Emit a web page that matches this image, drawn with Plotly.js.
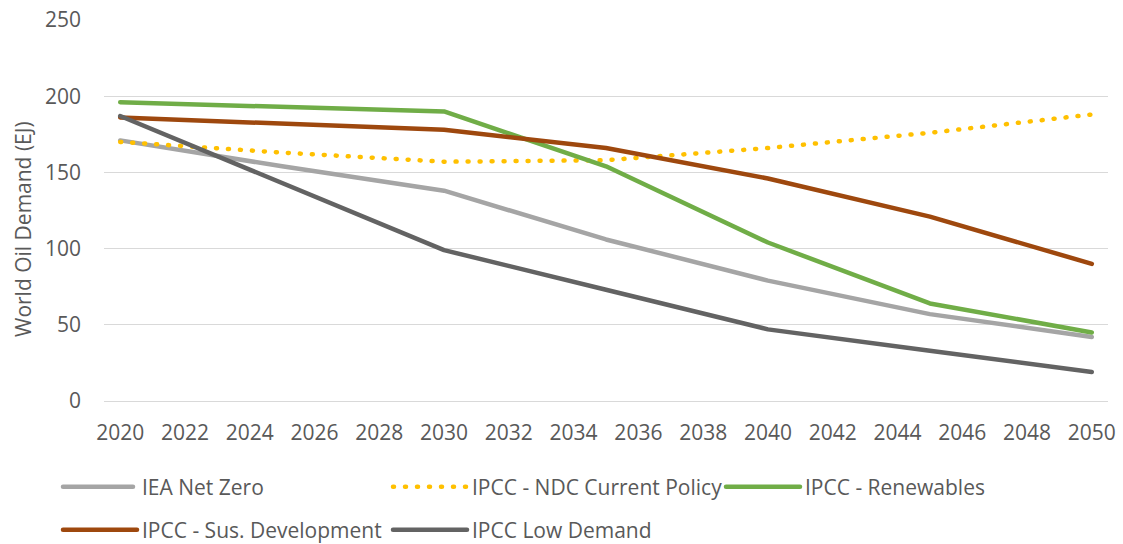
<!DOCTYPE html>
<html>
<head>
<meta charset="utf-8">
<script src="https://cdn.plot.ly/plotly-3.0.1.min.js"></script>
<style>
  html, body { margin: 0; padding: 0; background: #fff; }
  #chart { width: 1123px; height: 544px; }
  .scatterlayer .js-line, .legend .js-line, path.js-line { stroke-linecap: round !important; stroke-linejoin: round !important; }
  .legend .legendlines path.js-line { d: path("M5,0h70"); }
</style>
</head>
<body>
<div id="chart"></div>
<script>
const years = [2020, 2025, 2030, 2035, 2040, 2045, 2050];
const ieaNetZero   = [171, 154, 138, 106, 79, 57, 42];
const ndcPolicy    = [170, 163, 157, 158, 166, 176, 188];
const renewables   = [196, 193, 190, 154, 104, 64, 45];
const susDev       = [186, 182, 178, 166, 146, 121, 90];
const lowDemand    = [187, 143, 99, 73, 47, 33, 19];

const names = ["IEA Net Zero", "IPCC - NDC Current Policy", "IPCC - Renewables",
               "IPCC - Sus. Development", "IPCC Low Demand"];
const series = [ieaNetZero, ndcPolicy, renewables, susDev, lowDemand];
const colors = ["#A5A5A5", "#FFC000", "#70AD47", "#9E480E", "#636363"];
const dashes = ["solid", "1px,11px", "solid", "solid", "solid"];
const legendIds = ["legend", "legend2", "legend3", "legend4", "legend5"];
const yTitle = "World Oil Demand (EJ)";

const FONT = "Open Sans, Liberation Sans, sans-serif";
const TXT = "#595959";
const FS = 21;
const LFS = 21;

const traces = series.map((s, i) => ({
  x: years, y: s, name: names[i], type: "scatter", mode: "lines",
  line: { color: colors[i], width: 4.5, dash: dashes[i] },
  legend: legendIds[i], hoverinfo: "skip"
}));

const row1 = 1 - 487 / 544, row2 = 1 - 530 / 544;
const col1 = (58 - 104) / 1004, col2 = (388 - 104) / 1004, col3 = (721 - 104) / 1004;
function leg(x, y) {
  return {
    orientation: "v", yanchor: "middle", xanchor: "left",
    yref: "container", y: y, x: x,
    font: { family: FONT, size: LFS, color: TXT },
    bgcolor: "rgba(0,0,0,0)", borderwidth: 0, itemwidth: 74
  };
}

const layout = {
  width: 1123, height: 544,
  margin: { l: 104, r: 15, t: 20, b: 143, autoexpand: false },
  paper_bgcolor: "#ffffff", plot_bgcolor: "#ffffff",
  font: { family: FONT, size: FS, color: TXT },
  showlegend: true,
  legend:  leg(col1, row1),
  legend2: leg(col2, row1),
  legend3: leg(col3, row1),
  legend4: leg(col1, row2),
  legend5: leg(col2, row2),
  xaxis: {
    range: [2019.5, 2050.5], tick0: 2020, dtick: 2, tickmode: "linear",
    showgrid: false, zeroline: false, showline: false,
    ticks: "", ticklabelstandoff: 17,
    tickfont: { family: FONT, size: FS, color: TXT }
  },
  yaxis: {
    range: [0, 250], dtick: 50, tick0: 0,
    showgrid: true, gridcolor: "#D9D9D9", gridwidth: 1,
    zeroline: true, zerolinecolor: "#D9D9D9", zerolinewidth: 1,
    showline: false, ticks: "", ticklabelstandoff: 22,
    tickfont: { family: FONT, size: FS, color: TXT }
  },
  annotations: [{
    text: yTitle, textangle: -90, showarrow: false,
    xref: "paper", yref: "paper", x: (23 - 104) / 1004, y: (401 - 229) / 381,
    xanchor: "center", yanchor: "middle",
    font: { family: FONT, size: FS, color: TXT }
  }]
};

Plotly.newPlot("chart", traces, layout, { displayModeBar: false, staticPlot: true });
</script>
</body>
</html>
